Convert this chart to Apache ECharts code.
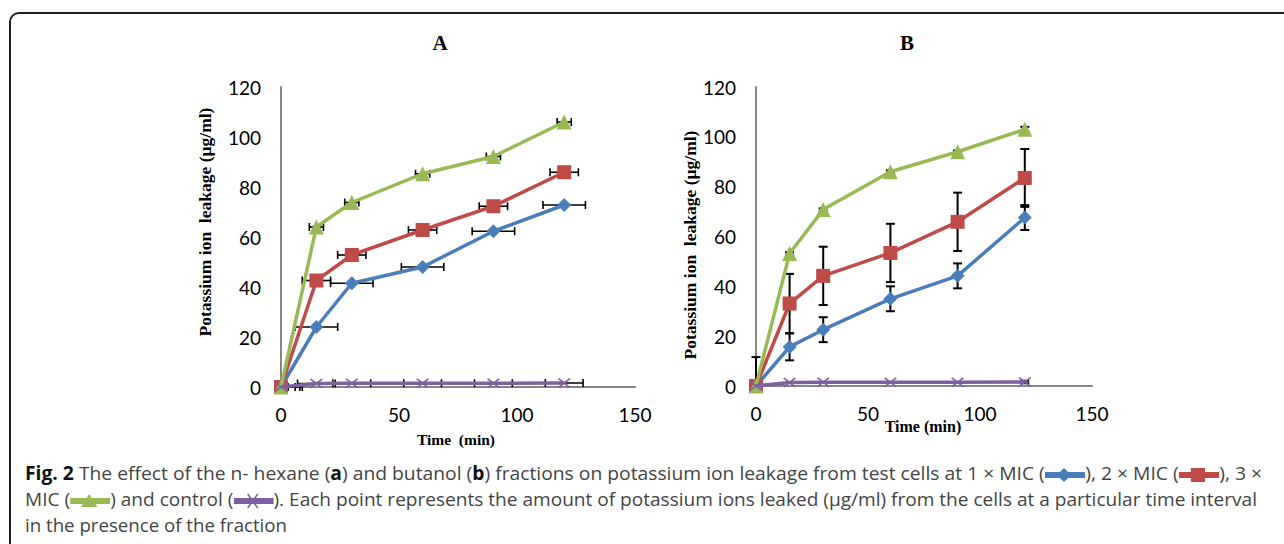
<!DOCTYPE html>
<html>
<head>
<meta charset="utf-8">
<title>Fig. 2</title>
<script src="https://cdn.jsdelivr.net/npm/echarts@6/dist/echarts.min.js"></script>
<style>
    html, body {margin: 0; padding: 0; background: #fff; overflow: hidden;}
    #main {position: absolute; left: 0; top: 0; width: 1284px; height: 544px;}
    #frame {position: absolute; left: 9px; top: 12px; width: 1300px; height: 560px;
        border: 2px solid #231f20; border-radius: 10px; box-sizing: border-box;}
    #cap {position: absolute; left: 25px; top: 460px; font-family: "Open Sans", sans-serif;
        font-size: 19px; color: #444; line-height: 26px;}
    #cap .ln {white-space: nowrap; transform-origin: 0 0; width: max-content;}
    #cap b {color: #111;}
    #cap svg {vertical-align: -3px;}
</style>
</head>
<body>
<div id="frame"></div>
<div id="main"></div>
<div id="cap"></div>

<script type="text/javascript">
    // time points (min)
    var times = [0, 15, 30, 60, 90, 120];
    var xTicks = [0, 50, 100, 150];
    var yTicks = [0, 20, 40, 60, 80, 100, 120];

    // panel A: n-hexane fraction
    var aMic1 = [0, 24, 41.5, 48, 62.3, 72.8];
    var aMic2 = [0, 42.6, 52.8, 62.8, 72.3, 85.9];
    var aMic3 = [0, 64, 73.8, 85.3, 92.2, 106];
    var aCtrl = [0, 1.4, 1.5, 1.5, 1.5, 1.6];
    // horizontal error (min)
    var aMic1Err = [9, 9, 9, 9, 9, 9];
    var aMic2Err = [6, 6, 6, 6, 6, 6];
    var aMic3Err = [3, 3, 3, 3, 3, 3];
    var aCtrlErr = [8, 8, 8, 8, 8, 8];

    // panel B: butanol fraction
    var bMic1 = [0, 15.7, 22.6, 35, 44.2, 67.6];
    var bMic2 = [0, 33.1, 44.2, 53.4, 65.9, 83.5];
    var bMic3 = [0, 53.2, 70.8, 86, 94, 103];
    var bCtrl = [0, 1.4, 1.5, 1.5, 1.5, 1.6];
    // vertical error (ug/ml)
    var bMic1Err = [0, 5.4, 5, 5, 5, 5];
    var bMic2Err = [11.6, 11.9, 11.7, 11.7, 11.7, 11.6];
    var bMic3Err = [0, 0.5, 0.5, 0.5, 0.5, 1];
    var bCtrlErr = [0, 0, 0, 0, 0, 0.5];

    var names = ['1 × MIC', '2 × MIC', '3 × MIC', 'control'];
    var colors = ['#4a7ebb', '#be4b48', '#98b954', '#7d60a0'];
    var crossPath = 'path://M0,1L1,0L5,4L9,0L10,1L6,5L10,9L9,10L5,6L1,10L0,9L4,5Z';
    var symbols = ['diamond', 'rect', 'triangle', crossPath];
    var symbolSizes = [14, 14, 15, [13, 10]];

    function pairs(ys) {
        return times.map(function (t, i) { return [t, ys[i]]; });
    }
    function errData(ys, errs) {
        return times.map(function (t, i) { return [t, ys[i], errs[i]]; });
    }

    // error bars: horizontal for A, vertical for B
    function errSeries(idx, ys, errs, horizontal) {
        return {
            type: 'custom',
            xAxisIndex: idx, yAxisIndex: idx,
            z: 1,
            silent: true,
            data: errData(ys, errs),
            renderItem: function (params, api) {
                var x = api.value(0), y = api.value(1), e = api.value(2);
                if (!e) return;
                var style = {stroke: '#000', lineWidth: horizontal ? 1.6 : 2};
                var kids = [];
                if (horizontal) {
                    var lo = Math.max(0, x - e);
                    var p1 = api.coord([lo, y]), p2 = api.coord([x + e, y]);
                    kids.push({type: 'line', shape: {x1: p1[0], y1: p1[1], x2: p2[0], y2: p2[1]}, style: style});
                    if (x - e >= 0) kids.push({type: 'line', shape: {x1: p1[0], y1: p1[1] - 4, x2: p1[0], y2: p1[1] + 4}, style: style});
                    kids.push({type: 'line', shape: {x1: p2[0], y1: p2[1] - 4, x2: p2[0], y2: p2[1] + 4}, style: style});
                } else {
                    var lo2 = Math.max(0, y - e);
                    var q1 = api.coord([x, lo2]), q2 = api.coord([x, y + e]);
                    kids.push({type: 'line', shape: {x1: q1[0], y1: q1[1], x2: q2[0], y2: q2[1]}, style: style});
                    if (y - e >= 0) kids.push({type: 'line', shape: {x1: q1[0] - 4.5, y1: q1[1], x2: q1[0] + 4.5, y2: q1[1]}, style: style});
                    kids.push({type: 'line', shape: {x1: q2[0] - 4.5, y1: q2[1], x2: q2[0] + 4.5, y2: q2[1]}, style: style});
                }
                return {type: 'group', children: kids};
            }
        };
    }

    function lineSeries(idx, k, ys) {
        return {
            type: 'line',
            name: names[k],
            xAxisIndex: idx, yAxisIndex: idx,
            z: 2 + k,
            data: pairs(ys),
            symbol: symbols[k],
            symbolSize: symbolSizes[k],
            showAllSymbol: true,
            color: colors[k],
            lineStyle: {color: colors[k], width: 3.5},
            itemStyle: {color: colors[k], opacity: 1},
            animation: false
        };
    }

    function xAxis(idx) {
        return {
            type: 'value', gridIndex: idx, min: xTicks[0], max: xTicks[xTicks.length - 1], interval: 50,
            axisLine: {show: true, onZero: false, lineStyle: {color: '#868686', width: 2}},
            axisTick: {show: false}, splitLine: {show: false},
            axisLabel: {color: '#000', fontFamily: 'Lato', fontSize: 19, margin: 18}
        };
    }
    function yAxis(idx) {
        return {
            type: 'value', gridIndex: idx, min: yTicks[0], max: yTicks[yTicks.length - 1], interval: 20,
            axisLine: {show: true, onZero: false, lineStyle: {color: '#868686', width: 2}},
            axisTick: {show: false}, splitLine: {show: false},
            axisLabel: {color: '#000', fontFamily: 'Lato', fontSize: 19, margin: 20}
        };
    }

    var serif = '"Liberation Serif", "DejaVu Serif", serif';
    function label(text, x, y, size, rot) {
        return {
            type: 'text', x: x, y: y, rotation: rot || 0,
            style: {text: text, fill: '#000', font: 'bold ' + size + 'px ' + serif, align: 'center', verticalAlign: 'middle'}
        };
    }

    var myChart = echarts.init(document.getElementById('main'), null, {renderer: 'svg'});
    var option = {
        animation: false,
        grid: [
            {left: 281, top: 87, width: 354, height: 300},
            {left: 756, top: 87, width: 336, height: 299}
        ],
        xAxis: [xAxis(0), xAxis(1)],
        yAxis: [yAxis(0), yAxis(1)],
        graphic: [
            label('A', 440, 43, 21),
            label('B', 907, 43, 21),
            label('Potassium ion  leakage (µg/ml)', 205, 222, 17.5, Math.PI / 2),
            label('Potassium ion  leakage (µg/ml)', 690, 245, 17.5, Math.PI / 2),
            label('Time  (min)', 456, 439, 15.5),
            label('Time (min)', 923, 426, 16)
        ],
        series: [
            errSeries(0, aMic1, aMic1Err, true),
            errSeries(0, aMic2, aMic2Err, true),
            errSeries(0, aMic3, aMic3Err, true),
            errSeries(0, aCtrl, aCtrlErr, true),
            lineSeries(0, 0, aMic1),
            lineSeries(0, 1, aMic2),
            lineSeries(0, 2, aMic3),
            lineSeries(0, 3, aCtrl),
            errSeries(1, bMic1, bMic1Err, false),
            errSeries(1, bMic2, bMic2Err, false),
            errSeries(1, bMic3, bMic3Err, false),
            errSeries(1, bCtrl, bCtrlErr, false),
            lineSeries(1, 0, bMic1),
            lineSeries(1, 1, bMic2),
            lineSeries(1, 2, bMic3),
            lineSeries(1, 3, bCtrl)
        ]
    };
    myChart.setOption(option);

    // caption with small legend keys
    function key(k) {
        var c = colors[k], m;
        if (k === 0) m = '<path d="M19,1L26,8L19,15L12,8Z" fill="' + c + '"/>';
        else if (k === 1) m = '<rect x="12" y="1" width="14" height="14" fill="' + c + '"/>';
        else if (k === 2) m = '<path d="M19,1L27,14L11,14Z" fill="' + c + '"/>';
        else m = '<path d="M14,1L24,15M24,1L14,15" stroke="' + c + '" stroke-width="1.5"/>';
        return '<svg width="40" height="16"><rect x="0" y="5" width="40" height="6" fill="' + c + '"/>' + m + '</svg>';
    }
    var lines = [
        '<b>Fig. 2</b> The effect of the n- hexane (<b>a</b>) and butanol (<b>b</b>) fractions on potassium ion leakage from test cells at 1 × MIC (' + key(0) + '), 2 × MIC (' + key(1) + '), 3 ×',
        'MIC (' + key(2) + ') and control (' + key(3) + '). Each point represents the amount of potassium ions leaked (µg/ml) from the cells at a particular time interval',
        'in the presence of the fraction'
    ];
    var targets = [1237, 1232, 262];
    var cap = document.getElementById('cap');
    lines.forEach(function (html, i) {
        var d = document.createElement('div');
        d.className = 'ln';
        d.innerHTML = html;
        cap.appendChild(d);
        var w = d.getBoundingClientRect().width;
        d.style.transform = 'scaleX(' + (targets[i] / w) + ')';
    });
</script>
</body>
</html>
